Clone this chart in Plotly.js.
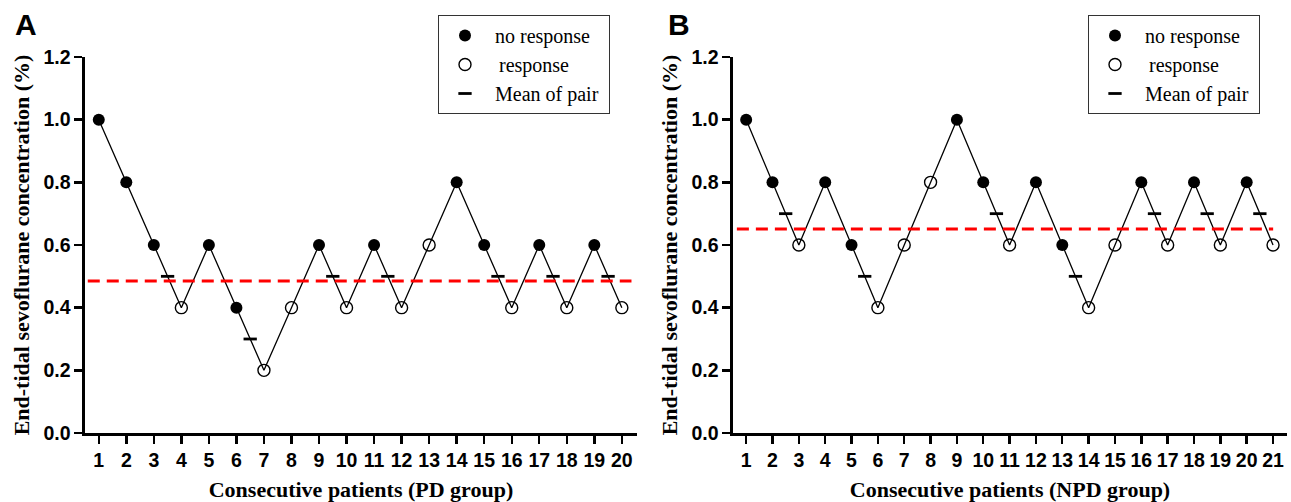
<!DOCTYPE html>
<html>
<head>
<meta charset="utf-8">
<script src="https://cdn.plot.ly/plotly-3.0.1.min.js"></script>
<style>html,body{margin:0;padding:0;background:#fff;}#chart{width:1291px;height:502px;}</style>
</head>
<body>
<div id="chart"></div>
<script>
// ---- Data ----
const pdPatients = [1,2,3,4,5,6,7,8,9,10,11,12,13,14,15,16,17,18,19,20];
const pdConc     = [1.0,0.8,0.6,0.4,0.6,0.4,0.2,0.4,0.6,0.4,0.6,0.4,0.6,0.8,0.6,0.4,0.6,0.4,0.6,0.4];
const pdResponse = [0,0,0,1,0,0,1,1,0,1,0,1,1,0,0,1,0,1,0,1]; // 1 = response, 0 = no response
const pdPairX    = [3.5,6.5,9.5,11.5,15.5,17.5,19.5];
const pdPairMean = [0.5,0.3,0.5,0.5,0.5,0.5,0.5];
const pdOverall  = 0.485;

const npdPatients = [1,2,3,4,5,6,7,8,9,10,11,12,13,14,15,16,17,18,19,20,21];
const npdConc     = [1.0,0.8,0.6,0.8,0.6,0.4,0.6,0.8,1.0,0.8,0.6,0.8,0.6,0.4,0.6,0.8,0.6,0.8,0.6,0.8,0.6];
const npdResponse = [0,0,1,0,0,1,1,1,0,0,1,0,0,1,1,0,1,0,1,0,1];
const npdPairX    = [2.5,5.5,10.5,13.5,16.5,18.5,20.5];
const npdPairMean = [0.7,0.5,0.7,0.5,0.7,0.7,0.7];
const npdOverall  = 0.651;

const legendNames = ['\u00a0\u00a0no response', '\u00a0\u00a0\u2009response', '\u00a0\u00a0Mean of pair\u00a0'];
const yTickVals = [0,0.2,0.4,0.6,0.8,1.0,1.2];

function pick(xs, ys, flags, want) {
  const ox = [], oy = [];
  xs.forEach((x, i) => { if (flags[i] === want) { ox.push(x); oy.push(ys[i]); } });
  return {x: ox, y: oy};
}

function panelTraces(xs, ys, flags, px, pm, xa, ya, leg) {
  const nr = pick(xs, ys, flags, 0);
  const r  = pick(xs, ys, flags, 1);
  return [
    {x: xs, y: ys, xaxis: xa, yaxis: ya, mode: 'lines', type: 'scatter',
     line: {color: '#000', width: 1.3}, showlegend: false, hoverinfo: 'skip'},
    {x: nr.x, y: nr.y, xaxis: xa, yaxis: ya, mode: 'markers', type: 'scatter',
     name: legendNames[0], legend: leg, legendgroup: leg + 'a',
     marker: {symbol: 'circle', size: 12, color: '#000', line: {width: 0}}},
    {x: r.x, y: r.y, xaxis: xa, yaxis: ya, mode: 'markers', type: 'scatter',
     name: legendNames[1], legend: leg, legendgroup: leg + 'b',
     marker: {symbol: 'circle-open', size: 12, color: '#000', line: {width: 1.4, color: '#000'}}},
    {x: px, y: pm, xaxis: xa, yaxis: ya, mode: 'markers', type: 'scatter',
     name: legendNames[2], legend: leg, legendgroup: leg + 'c',
     marker: {symbol: 'line-ew', size: 9.5, color: '#000', line: {width: 2.8, color: '#000'}}}
  ];
}

const data = [].concat(
  panelTraces(pdPatients, pdConc, pdResponse, pdPairX, pdPairMean, 'x', 'y', 'legend'),
  panelTraces(npdPatients, npdConc, npdResponse, npdPairX, npdPairMean, 'x2', 'y2', 'legend2')
);

const W = 1291, H = 502;
const tickFont = {family: 'Liberation Sans, Arial, sans-serif', size: 19.5, color: '#000', weight: 'bold'};
const titleFont = {family: 'Liberation Serif, Times New Roman, serif', size: 22, color: '#000', weight: 'bold'};

function xAxis(domain, range, title, anchor, vals) {
  return {domain: domain, range: range, anchor: anchor, tickmode: 'array',
    tickvals: vals, showgrid: false, zeroline: false,
    showline: true, linecolor: '#000', linewidth: 2.6, ticks: 'outside', ticklen: 8,
    tickwidth: 2.4, tickcolor: '#000', tickfont: tickFont,
    title: {text: title, font: titleFont, standoff: 14}};
}
function yAxis(domain, anchor) {
  return {domain: domain, range: [0, 1.2], anchor: anchor, tickmode: 'array',
    tickvals: yTickVals, tickformat: '.1f', showgrid: false, zeroline: false,
    showline: true, linecolor: '#000', linewidth: 2.6, ticks: 'outside', ticklen: 8,
    tickwidth: 2.4, tickcolor: '#000', tickfont: tickFont,
    title: {text: 'End-tidal sevoflurane concentration (%)', font: titleFont, standoff: 8}};
}

const yDom = [1 - 433 / H, 1 - 57 / H];
const xa1 = xAxis([85 / W, 637 / W], [0.5, 20.55], 'Consecutive patients (PD group)', 'y', pdPatients);
const xa2 = xAxis([733 / W, 1287 / W], [0.5, 21.53], 'Consecutive patients (NPD group)', 'y2', npdPatients);

const legendBase = {
  xanchor: 'left', yanchor: 'top', y: 1 - 15 / H,
  bgcolor: '#fff', bordercolor: '#333', borderwidth: 1, indentation: 6,
  font: {family: 'Liberation Serif, Times New Roman, serif', size: 20, color: '#000'},
  traceorder: 'normal', tracegroupgap: 2
};

const layout = {
  width: W, height: H, autosize: false,
  margin: {l: 0, r: 0, t: 0, b: 0},
  paper_bgcolor: '#fff', plot_bgcolor: '#fff',
  showlegend: true,
  xaxis: xa1, yaxis: yAxis(yDom, 'x'),
  xaxis2: xa2, yaxis2: yAxis(yDom, 'x2'),
  legend: Object.assign({}, legendBase, {x: 438 / W}),
  legend2: Object.assign({}, legendBase, {x: 1088 / W}),
  shapes: [
    {type: 'line', xref: 'x domain', yref: 'y', x0: 0.005, x1: 0.99, y0: pdOverall, y1: pdOverall,
     line: {color: '#ff0000', width: 3, dash: '12px,7px'}},
    {type: 'line', xref: 'x2 domain', yref: 'y2', x0: 0.007, x1: 0.975, y0: npdOverall, y1: npdOverall,
     line: {color: '#ff0000', width: 3, dash: '12px,7px'}}
  ],
  annotations: [
    {text: 'A', xref: 'paper', yref: 'paper', x: 13 / W, y: 1 - 25 / H, xanchor: 'left', yanchor: 'middle',
     showarrow: false, font: {family: 'Liberation Sans, Arial, sans-serif', size: 30, color: '#000', weight: 'bold'}},
    {text: 'B', xref: 'paper', yref: 'paper', x: 666 / W, y: 1 - 25 / H, xanchor: 'left', yanchor: 'middle',
     showarrow: false, font: {family: 'Liberation Sans, Arial, sans-serif', size: 30, color: '#000', weight: 'bold'}}
  ]
};

Plotly.newPlot('chart', data, layout, {displayModeBar: false, staticPlot: true});
</script>
</body>
</html>
